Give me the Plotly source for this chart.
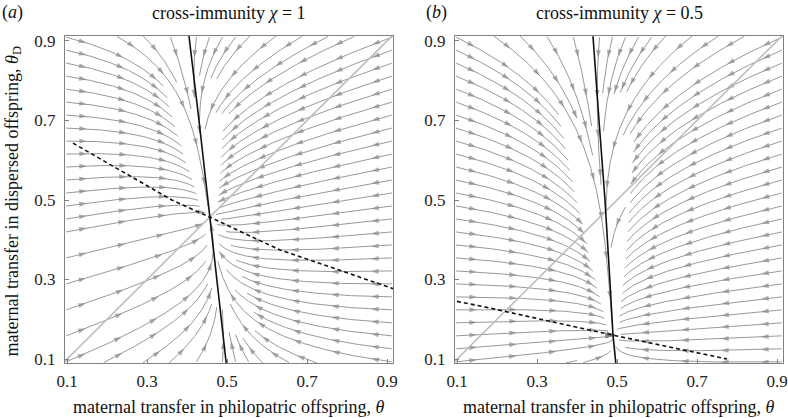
import math
import numpy as np
import plotly.graph_objects as go

# ---------------- data ----------------
X_RANGE = [0.095, 0.915]
Y_RANGE = [0.09, 0.9125]
TICK_VALS = [0.1, 0.3, 0.5, 0.7, 0.9]
TICK_TEXT = ["0.1", "0.3", "0.5", "0.7", "0.9"]

# panel (a): chi = 1
A_SOLID_Y = [0.09, 0.30, 0.457, 0.70, 0.912]
A_SOLID_X = [0.498, 0.475, 0.457, 0.430, 0.405]
A_DASH_X = [0.115, 0.25, 0.362, 0.457, 0.633, 0.80, 0.915]
A_DASH_Y = [0.643, 0.565, 0.500, 0.457, 0.374, 0.317, 0.277]
A_RATE = [1.0, 0.30]

# panel (b): chi = 0.5
B_SOLID_Y = [0.09, 0.16, 0.30, 0.50, 0.70, 0.912]
B_SOLID_X = [0.497, 0.490, 0.482, 0.470, 0.455, 0.440]
B_DASH_X = [0.10, 0.165, 0.49, 0.775]
B_DASH_Y = [0.245, 0.232, 0.16, 0.10]
B_RATE = [1.0, 0.25]

DIAG = [0.09, 0.915]

TITLES = ["cross-immunity <i>χ</i> = 1", "cross-immunity <i>χ</i> = 0.5"]
LABELS = ["(<i>a</i>)", "(<i>b</i>)"]
X_TITLE = "maternal transfer in philopatric offspring, <i>θ</i>"
Y_TITLE = "maternal transfer in dispersed offspring, <i>θ</i><sub>D</sub>"

W, H = 788, 418
PANEL_PX = [(65, 393), (455, 783)]
TOP_PX, BOT_PX = 36, 363

STREAM_COLOR = "#999999"
ARROW_COLOR = "#8a8a8a"
FONT = "Liberation Serif"
TEXT_SIZE = 18
TICK_SIZE = 17


def interp_ext(x, xp, fp):
    if x < xp[0]:
        return fp[0] + (x - xp[0]) * (fp[1] - fp[0]) / (xp[1] - xp[0])
    if x > xp[-1]:
        return fp[-1] + (x - xp[-1]) * (fp[-1] - fp[-2]) / (xp[-1] - xp[-2])
    return float(np.interp(x, xp, fp))


def make_field(sx, sy, dx, dy, rate):
    def f(x, y):
        return (rate[0] * (interp_ext(y, sy, sx) - x),
                rate[1] * (interp_ext(x, dx, dy) - y))
    return f


def streamlines(f, xr, yr, dsep, dtest, h=0.004):
    cell = dsep
    grid = {}
    lines = []

    def key(x, y):
        return (int((x - xr[0]) / cell), int((y - yr[0]) / cell))

    def near(x, y, d):
        kx, ky = key(x, y)
        for i in range(kx - 1, kx + 2):
            for j in range(ky - 1, ky + 2):
                for (px, py) in grid.get((i, j), ()):
                    if (px - x) ** 2 + (py - y) ** 2 < d * d:
                        return True
        return False

    def direction(x, y, s):
        u, v = f(x, y)
        n = math.hypot(u, v)
        if n < 2e-4:
            return None
        return s * u / n, s * v / n

    def inside(x, y):
        return xr[0] <= x <= xr[1] and yr[0] <= y <= yr[1]

    def integrate(x, y, s):
        pts = []
        for _ in range(800):
            d1 = direction(x, y, s)
            if d1 is None:
                break
            d2 = direction(x + 0.5 * h * d1[0], y + 0.5 * h * d1[1], s)
            if d2 is None:
                break
            nx, ny = x + h * d2[0], y + h * d2[1]
            if not inside(nx, ny) or near(nx, ny, dtest):
                break
            pts.append((nx, ny))
            x, y = nx, ny
        return pts

    def add(seed):
        x, y = seed
        if not inside(x, y) or near(x, y, dsep):
            return None
        back = integrate(x, y, -1)
        fwd = integrate(x, y, 1)
        pts = back[::-1] + [(x, y)] + fwd
        if len(pts) < 6:
            return None
        for p in pts:
            grid.setdefault(key(*p), []).append(p)
        lines.append(pts)
        return pts

    e = 0.003
    seeds = []
    n = int((yr[1] - yr[0]) / dsep)
    for i in range(n + 1):
        yy = yr[0] + e + i * (yr[1] - yr[0] - 2 * e) / n
        seeds += [(xr[0] + e, yy), (xr[1] - e, yy)]
    m = int((xr[1] - xr[0]) / dsep)
    for i in range(m + 1):
        xx = xr[0] + e + i * (xr[1] - xr[0] - 2 * e) / m
        seeds += [(xx, yr[1] - e), (xx, yr[0] + e)]
    queue = []
    for s in seeds:
        r = add(s)
        if r:
            queue.append(r)
    qi = 0
    while qi < len(queue):
        pts = queue[qi]
        qi += 1
        for k in range(0, len(pts) - 1, 4):
            x0, y0 = pts[k]
            x1, y1 = pts[min(k + 1, len(pts) - 1)]
            dx, dy = x1 - x0, y1 - y0
            nn = math.hypot(dx, dy) or 1.0
            for sg in (1, -1):
                r = add((x0 - sg * dy / nn * dsep, y0 + sg * dx / nn * dsep))
                if r:
                    queue.append(r)
    return lines


def line_xy(lines):
    xs, ys = [], []
    for pts in lines:
        xs += [p[0] for p in pts] + [None]
        ys += [p[1] for p in pts] + [None]
    return xs, ys


def arrow_xy(lines, spacing=0.1, first=0.05):
    xs, ys, sz = [], [], []
    for pts in lines:
        s = 0.0
        target = first
        for i in range(1, len(pts)):
            s += math.dist(pts[i], pts[i - 1])
            if s >= target and i >= 2:
                xs += [pts[i - 2][0], pts[i][0]]
                ys += [pts[i - 2][1], pts[i][1]]
                sz += [0, 8]
                target += spacing
    return xs, ys, sz


panels = [
    (A_SOLID_X, A_SOLID_Y, A_DASH_X, A_DASH_Y, A_RATE),
    (B_SOLID_X, B_SOLID_Y, B_DASH_X, B_DASH_Y, B_RATE),
]

fig = go.Figure()
for k, (sx, sy, dx, dy, rate) in enumerate(panels):
    xa = "x" if k == 0 else "x2"
    ya = "y" if k == 0 else "y2"
    f = make_field(sx, sy, dx, dy, rate)
    lines = streamlines(f, X_RANGE, Y_RANGE, dsep=0.032, dtest=0.014)
    lx, ly = line_xy(lines)
    fig.add_trace(go.Scatter(x=lx, y=ly, mode="lines", xaxis=xa, yaxis=ya,
                             line=dict(color=STREAM_COLOR, width=1), hoverinfo="skip"))
    ax, ay, asz = arrow_xy(lines)
    fig.add_trace(go.Scatter(x=ax, y=ay, mode="markers", xaxis=xa, yaxis=ya,
                             marker=dict(symbol="arrow", size=asz, angleref="previous",
                                         color=ARROW_COLOR, line=dict(width=0)),
                             hoverinfo="skip"))
    fig.add_trace(go.Scatter(x=DIAG, y=DIAG, mode="lines", xaxis=xa, yaxis=ya,
                             line=dict(color="#bdbdbd", width=1.6), hoverinfo="skip"))
    fig.add_trace(go.Scatter(x=sx, y=sy, mode="lines", xaxis=xa, yaxis=ya,
                             line=dict(color="#111111", width=1.6), hoverinfo="skip"))
    fig.add_trace(go.Scatter(x=dx, y=dy, mode="lines", xaxis=xa, yaxis=ya,
                             line=dict(color="#111111", width=1.6, dash="4px,3px"),
                             hoverinfo="skip"))

ydom = [1 - BOT_PX / H, 1 - TOP_PX / H]
axis_common = dict(showline=True, mirror=True, linecolor="#808080", linewidth=1,
                   ticks="inside", ticklen=4, tickcolor="#808080", tickvals=TICK_VALS,
                   ticktext=TICK_TEXT, showgrid=False, zeroline=False, automargin=False,
                   tickfont=dict(family=FONT, size=TICK_SIZE, color="#222222"))

layout = dict(width=W, height=H, margin=dict(l=0, r=0, t=0, b=0, autoexpand=False),
              paper_bgcolor="white", plot_bgcolor="white", showlegend=False)
for k in range(2):
    xd = [PANEL_PX[k][0] / W, PANEL_PX[k][1] / W]
    xs = "" if k == 0 else "2"
    layout["xaxis" + xs] = dict(axis_common, domain=xd, range=X_RANGE,
                                anchor="y" + xs, ticklabelstandoff=3)
    layout["yaxis" + xs] = dict(axis_common, domain=ydom, range=Y_RANGE,
                                anchor="x" + xs, ticklabelstandoff=5)
fig.update_layout(**layout)


def note(x_px, y_px, text, angle=0):
    return dict(x=x_px / W, y=1 - y_px / H, xref="paper", yref="paper", text=text,
                xanchor="center", yanchor="middle", textangle=angle, showarrow=False,
                font=dict(family=FONT, size=TEXT_SIZE, color="#111111"))


ann = []
for k in range(2):
    cx = (PANEL_PX[k][0] + PANEL_PX[k][1]) / 2
    ann.append(note(cx, 13, TITLES[k]))
    ann.append(note(cx, 407, X_TITLE))
ann.append(note(12, 13, LABELS[0]))
ann.append(note(436, 13, LABELS[1]))
ann.append(note(13, (TOP_PX + BOT_PX) / 2 + 2, Y_TITLE, -90))
fig.update_layout(annotations=ann)

fig.write_html("out.html", config={"displayModeBar": False},
               post_script="document.body.style.margin='0';")
